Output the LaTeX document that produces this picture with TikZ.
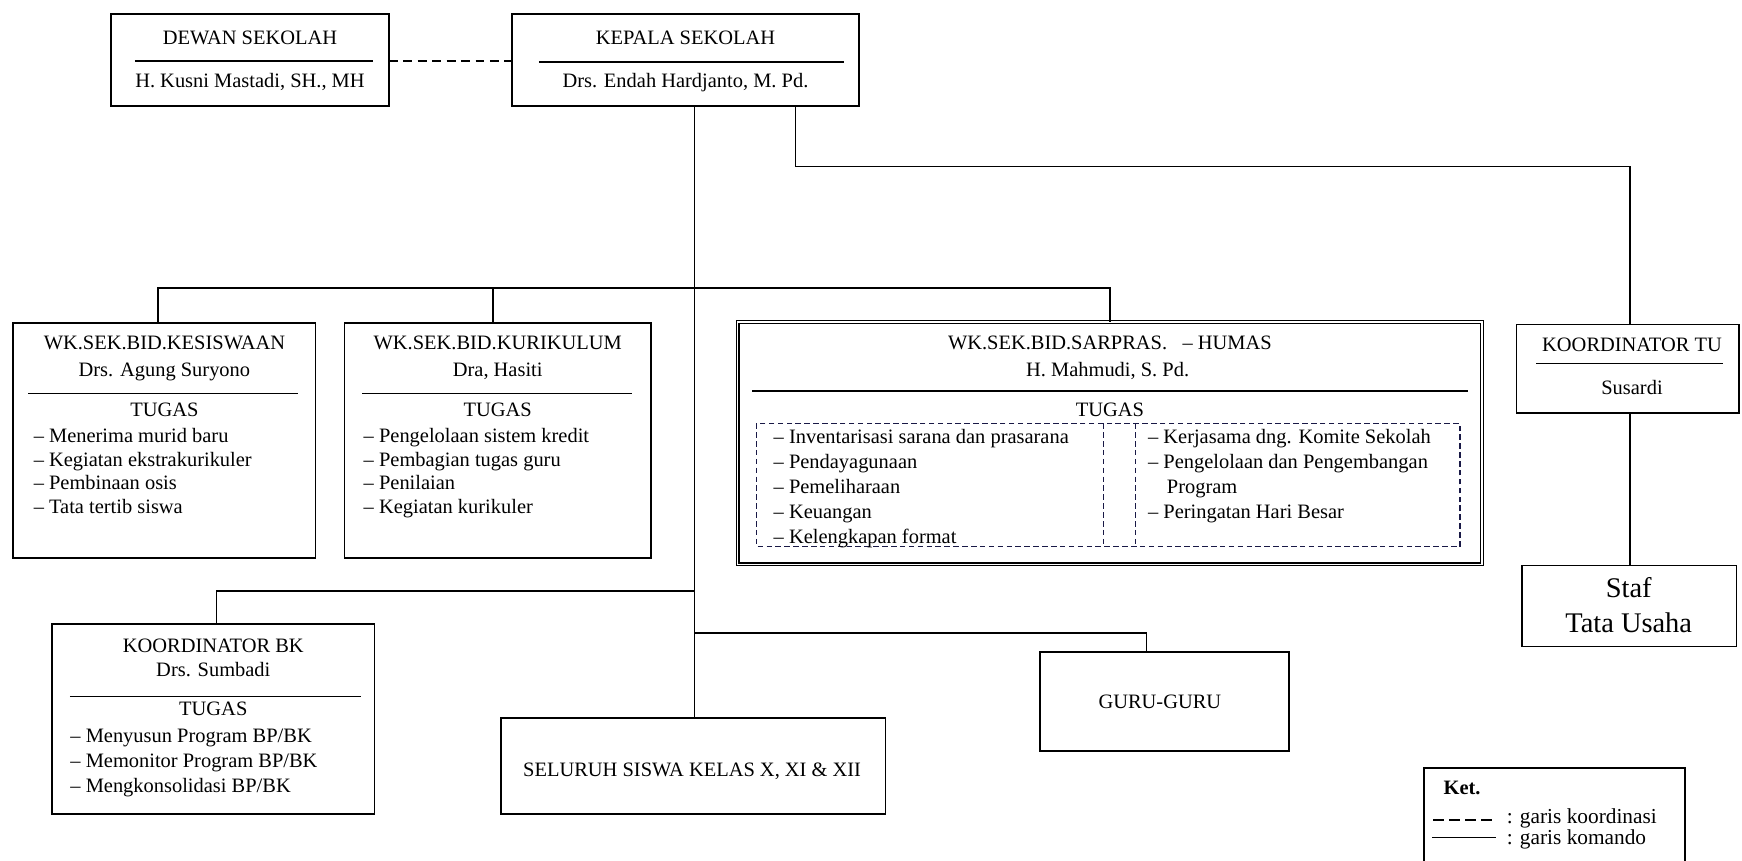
\documentclass[tikz,border=0pt]{standalone}
\usepackage{fontspec}
\setmainfont{Liberation Serif}
\definecolor{navy}{RGB}{25,25,70}
\newcommand\mybox[6][]{\node[box,anchor=north west,minimum width={(#5-#3)*0.5pt},minimum height={(#6-#4)*0.5pt},#1] (#2) at (#3,#4) {};}
\begin{document}
\begin{tikzpicture}[x=0.5pt,y=-0.5pt,
  box/.style={draw, line width=0.8pt, inner sep=0pt, outer sep=0pt},
  t/.style={anchor=base, inner sep=0pt, font=\fontsize{9.2}{11}\selectfont},
  tl/.style={anchor=base west, inner sep=0pt, font=\fontsize{9.2}{11}\selectfont},
  lg/.style={anchor=base west, inner sep=0pt, font=\fontsize{9.6}{11}\selectfont},
  conn/.style={line width=0.7pt},
  rule/.style={line width=0.7pt},
  coordline/.style={line width=0.8pt, dash pattern=on 4pt off 2.5pt},
  dbox/.style={line width=0.6pt, draw=navy, dash pattern=on 2.5pt off 1.5pt}]
\useasboundingbox (0,0) rectangle (1568,775);

% ---- top boxes
\mybox{dewan}{100}{12.6}{350}{95.4}
\node[t] (dewanA) at (225,40.5) {DEWAN SEKOLAH};
\draw[rule] (121.5,55) -- (336,55);
\node[t] (dewanB) at (225,78.5) {H. Kusni Mastadi, SH., MH};

\mybox{kepala}{461}{12.6}{773}{95.4}
\node[t] (kepalaA) at (617,40.5) {KEPALA SEKOLAH};
\draw[rule] (485,56) -- (760,56);
\node[t] (kepalaB) at (617,78.5) {Drs. Endah Hardjanto, M. Pd.};

\draw[coordline] (dewan.east |- 0,55) -- (kepala.west |- 0,55);

% ---- wakil boxes
\mybox{kes}{11.4}{290.5}{284}{502}
\node[t] (kesA) at (148,315) {WK.SEK.BID.KESISWAAN};
\node[t] (kesB) at (148,339) {Drs. Agung Suryono};
\draw[rule] (25.5,354) -- (268.5,354);
\node[t] (kesC) at (148,375) {TUGAS};
\node[tl] (kes1) at (30,398) {\textendash\ Menerima murid  baru};
\node[tl] (kes2) at (30,419.5) {\textendash\ Kegiatan ekstrakurikuler};
\node[tl] (kes3) at (30,441) {\textendash\ Pembinaan osis};
\node[tl] (kes4) at (30,462.5) {\textendash\ Tata tertib siswa};

\mybox{kur}{310}{290.5}{586}{502}
\node[t] (kurA) at (448,315) {WK.SEK.BID.KURIKULUM};
\node[t] (kurB) at (448,339) {Dra, Hasiti};
\draw[rule] (326,354) -- (569,354);
\node[t] (kurC) at (448,375) {TUGAS};
\node[tl] (kur1) at (327,398) {\textendash\ Pengelolaan  sistem kredit};
\node[tl] (kur2) at (327,419.5) {\textendash\ Pembagian  tugas guru};
\node[tl] (kur3) at (327,441) {\textendash\ Penilaian};
\node[tl] (kur4) at (327,462.5) {\textendash\ Kegiatan kurikuler};

\mybox[double, double distance=0.7pt, line width=0.5pt]{sar}{664}{290}{1334}{508}
\node[t] (sarA) at (999,315) {WK.SEK.BID.SARPRAS. \ \ \textendash\ HUMAS};
\node[t] (sarB) at (997,339) {H. Mahmudi,  S. Pd.};
\draw[rule] (677,352) -- (1321,352);
\node[t] (sarC) at (999,375) {TUGAS};
\draw[dbox] (681,381) rectangle (1314,492);
\draw[dbox] (993,381) -- (993,492);
\draw[dbox] (1022,381) -- (1022,492);
\node[tl] (sar1) at (696,399) {\textendash\ Inventarisasi  sarana dan prasarana};
\node[tl] (sar2) at (696,421.5) {\textendash\ Pendayagunaan};
\node[tl] (sar3) at (696,444) {\textendash\ Pemeliharaan};
\node[tl] (sar4) at (696,466.5) {\textendash\ Keuangan};
\node[tl] (sar5) at (696,489) {\textendash\ Kelengkapan format};
\node[tl] (sar6) at (1033,399) {\textendash\ Kerjasama dng.  Komite  Sekolah};
\node[tl] (sar7) at (1033,421.5) {\textendash\ Pengelolaan dan Pengembangan};
\node[tl] (sar8) at (1050,444) {Program};
\node[tl] (sar9) at (1033,466.5) {\textendash\ Peringatan Hari Besar};

% ---- TU
\mybox{tu}{1365}{292}{1565}{372}
\node[t] (tuA) at (1469,316) {KOORDINATOR TU};
\draw[rule] (1383,327) -- (1551,327);
\node[t] (tuB) at (1469,355) {Susardi};

\mybox{staf}{1370}{509}{1563}{582}
\node[t, font=\fontsize{12.8}{15.5}\selectfont] (stafA) at (1466,538) {Staf};
\node[t, font=\fontsize{12.8}{15.5}\selectfont] (stafB) at (1466,569) {Tata Usaha};

% ---- BK
\mybox{bk}{47}{562}{337}{733}
\node[t] (bkA) at (192,587) {KOORDINATOR BK};
\node[t] (bkB) at (192,609) {Drs. Sumbadi};
\draw[rule] (63,627) -- (325,627);
\node[t] (bkC) at (192,644) {TUGAS};
\node[tl] (bk1) at (63,668) {\textendash\ Menyusun Program BP/BK};
\node[tl] (bk2) at (63,690.5) {\textendash\ Memonitor  Program BP/BK};
\node[tl] (bk3) at (63,713) {\textendash\ Mengkonsolidasi  BP/BK};

% ---- guru, siswa
\mybox{guru}{936}{587}{1160}{676}
\node[t] (guruA) at (1044,638) {GURU-GURU};
\mybox{siswa}{451}{646}{797}{733}
\node[t] (siswaA) at (623,699) {SELURUH  SISWA KELAS X, XI \& XII};

% ---- legend
\mybox{ket}{1282}{691}{1517}{790}
\node[tl, font=\fontsize{9.2}{11}\selectfont\bfseries] (ketA) at (1299,715.5) {Ket.};
\coordinate (k1a) at (1290,738);
\coordinate (k1b) at (1347,738);
\coordinate (k2a) at (1289,754);
\coordinate (k2b) at (1347,754);
\draw[line width=0.7pt, dash pattern=on 4.8pt off 2.4pt] (k1a) -- (k1b);
\draw[line width=0.7pt] (k2a) -- (k2b);
\node[lg] (ketB) at (1356,741) {: garis koordinasi};
\node[lg] (ketC) at (1356,760) {: garis komando};

% ---- connectors
\draw[conn] (kepala.south -| 625,0) -- (siswa.north -| 625,0);
\draw[conn] (kepala.south -| 716,0) -- (716,150) -| (tu.north -| 1467,0);
\draw[conn] (kes.north -| 142,0) |- (sar.north |- 0,259) -- (sar.north -| 999,0);
\draw[conn] (kur.north -| 444,0) -- (444,259);
\draw[conn] (625,532) -| (bk.north -| 195,0);
\draw[conn] (625,570) -| (guru.north -| 1032,0);
\draw[line width=1pt] (tu.south -| 1467,0) -- (staf.north -| 1467,0);
\end{tikzpicture}
\end{document}
